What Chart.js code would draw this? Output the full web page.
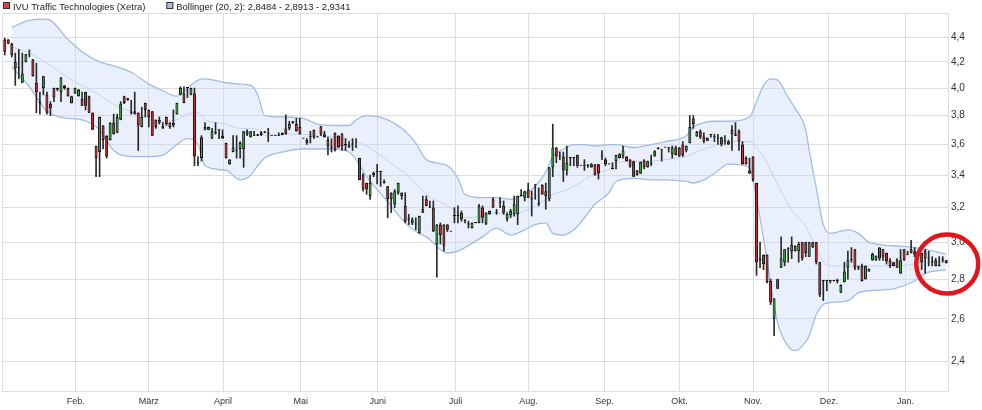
<!DOCTYPE html>
<html lang="de">
<head>
<meta charset="UTF-8">
<title>IVU Traffic Technologies (Xetra)</title>
<script src="https://cdn.jsdelivr.net/npm/chart.js"></script>
<style>
  html, body { margin: 0; padding: 0; background: #fff; }
  #chart { display: block; }
</style>
</head>
<body>
<canvas id="chart" width="982" height="410"></canvas>
<script>
// daily candles, one entry per trading day
const open = [
  4.38, 4.38, 4.345, 4.20, 4.15, 4.04, 4.20, 4.29, 4.22, 4.04,
  3.89, 4.00, 3.95, 3.885, 4.00, 4.00, 3.97, 4.02, 4.00, 3.89,
  3.96, 3.94, 3.92, 3.97, 3.94, 3.82, 3.59, 3.55, 3.73, 3.66,
  3.63, 3.75, 3.68, 3.77, 3.94, 3.91, 3.82, 3.83, 3.82, 3.72,
  3.89, 3.84, 3.83, 3.77, 3.77, 3.71, 3.79, 3.72, 3.75, 3.81,
  3.95, 3.96, 4.00, 3.95, 3.96, 3.48, 3.51, 3.70, 3.70, 3.64,
  3.68, 3.70, 3.64, 3.61, 3.47, 3.55, 3.565, 3.57, 3.57, 3.67,
  3.65, 3.66, 3.66, 3.665, 3.68, 3.67, 3.66, 3.66, 3.66, 3.68,
  3.71, 3.71, 3.745, 3.74, 3.72, 3.64, 3.63, 3.65, 3.70, 3.65,
  3.725, 3.67, 3.63, 3.58, 3.68, 3.66, 3.675, 3.595, 3.58, 3.60,
  3.58, 3.51, 3.40, 3.35, 3.27, 3.40, 3.42, 3.42, 3.36, 3.33,
  3.29, 3.22, 3.29, 3.29, 3.21, 3.13, 3.11, 3.10, 3.05, 3.17,
  3.25, 3.20, 3.20, 2.99, 3.10, 3.10, 3.10, 3.06, 3.15, 3.15,
  3.17, 3.12, 3.10, 3.08, 3.11, 3.11, 3.20, 3.105, 3.16, 3.25,
  3.17, 3.23, 3.21, 3.13, 3.155, 3.16, 3.16, 3.27, 3.26, 3.31,
  3.25, 3.34, 3.22, 3.34, 3.30, 3.25, 3.45, 3.58, 3.52, 3.52,
  3.43, 3.51, 3.51, 3.53, 3.46, 3.46, 3.46, 3.47, 3.47, 3.47,
  3.52, 3.50, 3.47, 3.44, 3.49, 3.51, 3.52, 3.52, 3.50, 3.49,
  3.43, 3.41, 3.495, 3.45, 3.47, 3.525, 3.57, 3.565, 3.58, 3.575,
  3.535, 3.58, 3.58, 3.60, 3.56, 3.61, 3.78, 3.655, 3.69, 3.655,
  3.645, 3.665, 3.65, 3.64, 3.65, 3.62, 3.62, 3.70, 3.66, 3.69,
  3.60, 3.51, 3.41, 3.52, 3.35, 2.90, 2.93, 2.93, 2.79, 2.60,
  2.80, 2.86, 2.89, 2.96, 2.95, 2.98, 2.95, 3.00, 3.00, 2.92,
  3.00, 3.00, 2.89, 2.79, 2.79, 2.79, 2.79, 2.79, 2.73, 2.785,
  2.86, 2.90, 2.96, 2.86, 2.87, 2.80, 2.84, 2.90, 2.90, 2.97,
  2.96, 2.94, 2.90, 2.89, 2.90, 2.83, 2.96, 2.93, 2.96, 2.95,
  2.93, 2.94, 2.95, 2.91, 2.89, 2.90, 2.87, 2.90, 2.90
];
const high = [
  4.39, 4.38, 4.35, 4.27, 4.30, 4.27, 4.26, 4.29, 4.22, 4.19,
  3.97, 4.09, 3.97, 3.90, 4.00, 4.00, 4.08, 4.02, 4.00, 3.94,
  4.00, 3.99, 3.97, 3.97, 3.94, 3.82, 3.59, 3.79, 3.73, 3.66,
  3.75, 3.81, 3.81, 3.90, 3.94, 3.925, 3.91, 3.97, 3.82, 3.86,
  3.89, 3.84, 3.83, 3.77, 3.79, 3.75, 3.79, 3.75, 3.84, 3.89,
  4.01, 4.01, 4.00, 4.00, 4.00, 3.52, 3.66, 3.75, 3.72, 3.71,
  3.75, 3.70, 3.70, 3.61, 3.50, 3.66, 3.66, 3.62, 3.69, 3.70,
  3.69, 3.69, 3.67, 3.69, 3.69, 3.71, 3.66, 3.66, 3.68, 3.68,
  3.805, 3.76, 3.76, 3.78, 3.78, 3.64, 3.64, 3.69, 3.70, 3.65,
  3.725, 3.69, 3.65, 3.64, 3.68, 3.66, 3.675, 3.64, 3.62, 3.64,
  3.64, 3.51, 3.41, 3.35, 3.40, 3.42, 3.47, 3.42, 3.37, 3.33,
  3.29, 3.31, 3.35, 3.29, 3.29, 3.16, 3.14, 3.14, 3.15, 3.27,
  3.27, 3.24, 3.24, 3.10, 3.11, 3.10, 3.10, 3.06, 3.20, 3.21,
  3.18, 3.13, 3.12, 3.11, 3.11, 3.22, 3.21, 3.17, 3.18, 3.26,
  3.19, 3.26, 3.24, 3.17, 3.19, 3.27, 3.27, 3.31, 3.30, 3.35,
  3.30, 3.34, 3.32, 3.34, 3.35, 3.45, 3.74, 3.58, 3.55, 3.55,
  3.59, 3.51, 3.51, 3.53, 3.46, 3.50, 3.47, 3.475, 3.47, 3.47,
  3.56, 3.51, 3.47, 3.48, 3.53, 3.54, 3.59, 3.52, 3.50, 3.49,
  3.43, 3.485, 3.50, 3.49, 3.53, 3.56, 3.58, 3.565, 3.58, 3.58,
  3.59, 3.59, 3.58, 3.62, 3.59, 3.80, 3.80, 3.69, 3.70, 3.68,
  3.645, 3.665, 3.67, 3.67, 3.65, 3.66, 3.63, 3.73, 3.75, 3.70,
  3.62, 3.52, 3.51, 3.52, 3.35, 3.00, 2.93, 2.93, 2.80, 2.70,
  2.80, 3.03, 2.96, 2.97, 3.03, 2.98, 3.00, 3.00, 3.00, 3.00,
  3.00, 3.00, 2.89, 2.79, 2.79, 2.79, 2.79, 2.80, 2.77, 2.89,
  2.95, 2.97, 2.96, 2.87, 2.88, 2.87, 2.855, 2.94, 2.925, 2.97,
  2.96, 2.94, 2.91, 2.89, 2.91, 2.96, 2.96, 2.95, 3.01, 2.97,
  2.93, 2.94, 2.96, 2.95, 2.92, 2.91, 2.92, 2.92, 2.90
];
const low = [
  4.255, 4.345, 4.24, 4.02, 4.07, 4.04, 4.20, 4.24, 4.09, 3.82,
  3.81, 3.95, 3.81, 3.80, 3.90, 3.98, 3.90, 3.99, 3.94, 3.89,
  3.96, 3.94, 3.87, 3.84, 3.82, 3.70, 3.39, 3.39, 3.57, 3.51,
  3.63, 3.67, 3.68, 3.77, 3.885, 3.91, 3.81, 3.81, 3.56, 3.72,
  3.79, 3.72, 3.66, 3.71, 3.74, 3.71, 3.73, 3.71, 3.72, 3.81,
  3.95, 3.89, 3.93, 3.95, 3.46, 3.46, 3.49, 3.70, 3.70, 3.64,
  3.67, 3.64, 3.64, 3.51, 3.47, 3.55, 3.51, 3.51, 3.45, 3.66,
  3.65, 3.66, 3.66, 3.66, 3.68, 3.62, 3.66, 3.66, 3.66, 3.665,
  3.67, 3.70, 3.745, 3.69, 3.67, 3.64, 3.60, 3.61, 3.64, 3.65,
  3.66, 3.65, 3.53, 3.55, 3.555, 3.58, 3.56, 3.56, 3.58, 3.56,
  3.58, 3.37, 3.30, 3.28, 3.25, 3.39, 3.345, 3.33, 3.35, 3.14,
  3.17, 3.20, 3.28, 3.25, 3.11, 3.10, 3.10, 3.07, 3.05, 3.17,
  3.21, 3.20, 3.06, 2.81, 2.99, 2.95, 3.06, 3.06, 3.11, 3.11,
  3.12, 3.11, 3.08, 3.08, 3.11, 3.11, 3.11, 3.10, 3.16, 3.20,
  3.16, 3.20, 3.16, 3.12, 3.14, 3.15, 3.10, 3.27, 3.24, 3.26,
  3.15, 3.25, 3.21, 3.28, 3.19, 3.24, 3.39, 3.48, 3.50, 3.36,
  3.40, 3.46, 3.46, 3.45, 3.46, 3.43, 3.45, 3.45, 3.40, 3.375,
  3.50, 3.46, 3.47, 3.44, 3.44, 3.51, 3.51, 3.49, 3.45, 3.39,
  3.40, 3.41, 3.44, 3.45, 3.46, 3.52, 3.57, 3.49, 3.58, 3.55,
  3.51, 3.53, 3.52, 3.52, 3.55, 3.61, 3.71, 3.655, 3.64, 3.61,
  3.625, 3.65, 3.62, 3.60, 3.59, 3.60, 3.60, 3.56, 3.66, 3.56,
  3.47, 3.47, 3.41, 3.36, 2.82, 2.86, 2.85, 2.78, 2.67, 2.52,
  2.75, 2.86, 2.87, 2.89, 2.91, 2.95, 2.89, 2.90, 2.92, 2.92,
  2.97, 2.88, 2.71, 2.69, 2.74, 2.78, 2.79, 2.78, 2.73, 2.785,
  2.80, 2.89, 2.85, 2.85, 2.79, 2.80, 2.84, 2.90, 2.90, 2.90,
  2.90, 2.88, 2.86, 2.87, 2.86, 2.83, 2.90, 2.93, 2.94, 2.92,
  2.93, 2.85, 2.83, 2.87, 2.87, 2.87, 2.87, 2.89, 2.885
];
const close = [
  4.28, 4.345, 4.255, 4.15, 4.15, 4.11, 4.26, 4.29, 4.09, 3.97,
  3.89, 4.09, 3.82, 3.85, 3.93, 3.99, 4.08, 4.00, 3.94, 3.94,
  4.00, 3.99, 3.87, 3.87, 3.82, 3.70, 3.51, 3.79, 3.63, 3.52,
  3.75, 3.67, 3.79, 3.885, 3.89, 3.925, 3.82, 3.81, 3.73, 3.79,
  3.84, 3.79, 3.66, 3.72, 3.75, 3.725, 3.74, 3.75, 3.73, 3.89,
  4.00, 3.89, 4.00, 4.00, 3.52, 3.48, 3.65, 3.72, 3.72, 3.69,
  3.68, 3.70, 3.66, 3.51, 3.50, 3.58, 3.56, 3.61, 3.69, 3.69,
  3.69, 3.66, 3.67, 3.68, 3.68, 3.67, 3.66, 3.66, 3.66, 3.665,
  3.67, 3.74, 3.76, 3.69, 3.67, 3.64, 3.61, 3.65, 3.65, 3.65,
  3.67, 3.65, 3.59, 3.58, 3.565, 3.58, 3.59, 3.605, 3.60, 3.60,
  3.58, 3.37, 3.31, 3.31, 3.35, 3.415, 3.42, 3.42, 3.35, 3.25,
  3.25, 3.30, 3.35, 3.27, 3.12, 3.13, 3.13, 3.10, 3.15, 3.19,
  3.21, 3.20, 3.06, 3.10, 3.04, 2.98, 3.07, 3.06, 3.15, 3.15,
  3.13, 3.12, 3.10, 3.11, 3.11, 3.21, 3.14, 3.17, 3.18, 3.20,
  3.17, 3.23, 3.17, 3.16, 3.18, 3.22, 3.27, 3.27, 3.30, 3.26,
  3.25, 3.34, 3.22, 3.28, 3.27, 3.45, 3.58, 3.52, 3.52, 3.43,
  3.48, 3.51, 3.51, 3.46, 3.46, 3.46, 3.46, 3.45, 3.40, 3.41,
  3.52, 3.47, 3.47, 3.44, 3.53, 3.535, 3.56, 3.49, 3.455, 3.39,
  3.40, 3.485, 3.45, 3.49, 3.47, 3.555, 3.57, 3.565, 3.58, 3.575,
  3.58, 3.53, 3.52, 3.53, 3.59, 3.72, 3.74, 3.685, 3.65, 3.62,
  3.625, 3.665, 3.65, 3.64, 3.60, 3.62, 3.60, 3.67, 3.67, 3.62,
  3.47, 3.47, 3.43, 3.37, 2.89, 2.91, 2.88, 2.785, 2.68, 2.70,
  2.75, 2.91, 2.96, 2.96, 2.985, 2.95, 2.99, 2.91, 2.94, 3.00,
  2.97, 2.89, 2.72, 2.79, 2.79, 2.79, 2.79, 2.79, 2.77, 2.84,
  2.90, 2.90, 2.86, 2.86, 2.79, 2.87, 2.855, 2.935, 2.925, 2.91,
  2.92, 2.895, 2.87, 2.87, 2.86, 2.90, 2.90, 2.93, 2.94, 2.93,
  2.93, 2.89, 2.91, 2.91, 2.89, 2.87, 2.87, 2.90, 2.885
];

// Bollinger (20, 2) at these trading-day positions
const bandIdx = [
  2, 7, 12, 18, 22, 27, 31, 36, 41, 45, 49, 52, 55, 57, 63, 67, 70, 72, 74, 79,
  85, 89, 94, 98, 100, 103, 108, 114, 117, 120, 126, 129, 131, 136, 140, 144, 148, 151, 154, 156,
  159, 162, 165, 168, 172, 174, 179, 184, 188, 194, 196, 199, 202, 206, 212, 214, 216, 218, 220, 223,
  225, 228, 229, 231, 233, 235, 240, 243, 246, 253, 259, 262, 268
];
const bandUpper = [
  4.48, 4.54, 4.55, 4.38, 4.28, 4.20, 4.17, 4.12, 4.03, 3.98, 3.94, 4.00, 4.06, 4.07, 4.04, 4.03, 4.02, 3.95, 3.80, 3.79,
  3.78, 3.74, 3.73, 3.73, 3.77, 3.80, 3.78, 3.69, 3.61, 3.50, 3.46, 3.38, 3.28, 3.26, 3.26, 3.25, 3.28, 3.33, 3.42, 3.52,
  3.57, 3.60, 3.60, 3.59, 3.60, 3.60, 3.58, 3.60, 3.62, 3.66, 3.72, 3.75, 3.76, 3.76, 3.79, 3.90, 4.02, 4.07, 4.06, 3.93,
  3.85, 3.70, 3.56, 3.32, 3.10, 3.05, 3.07, 3.05, 3.00, 2.98, 2.97, 2.96, 2.9341
];
const bandMiddle = [
  4.32, 4.27, 4.19, 4.08, 4.02, 3.95, 3.88, 3.83, 3.78, 3.76, 3.77, 3.81, 3.82, 3.77, 3.74, 3.71, 3.71, 3.70, 3.66, 3.67,
  3.67, 3.66, 3.65, 3.63, 3.62, 3.59, 3.51, 3.41, 3.35, 3.28, 3.21, 3.17, 3.14, 3.15, 3.17, 3.15, 3.18, 3.21, 3.25, 3.28,
  3.30, 3.33, 3.37, 3.41, 3.44, 3.48, 3.49, 3.49, 3.50, 3.52, 3.54, 3.57, 3.59, 3.62, 3.62, 3.58, 3.52, 3.43, 3.34, 3.22,
  3.16, 3.09, 3.05, 2.97, 2.89, 2.87, 2.87, 2.87, 2.87, 2.87, 2.88, 2.89, 2.8913
];
const bandLower = [
  4.16, 4.01, 3.83, 3.78, 3.77, 3.70, 3.56, 3.52, 3.52, 3.53, 3.60, 3.64, 3.60, 3.46, 3.43, 3.37, 3.40, 3.46, 3.51, 3.55,
  3.57, 3.57, 3.57, 3.55, 3.50, 3.39, 3.26, 3.11, 3.06, 3.03, 2.94, 2.95, 2.97, 3.03, 3.08, 3.04, 3.07, 3.10, 3.11, 3.05,
  3.04, 3.07, 3.14, 3.22, 3.29, 3.36, 3.38, 3.37, 3.37, 3.36, 3.35, 3.37, 3.41, 3.47, 3.45, 3.25, 3.02, 2.78, 2.58, 2.47,
  2.45, 2.49, 2.52, 2.62, 2.67, 2.68, 2.69, 2.73, 2.74, 2.75, 2.79, 2.83, 2.8484
];

// month starts on the trading-day axis
const monthTicks = [20.2, 41, 62.15, 84.25, 106.2, 128.3, 149.1, 170.7, 192.1, 213, 234.6, 256.4];
const monthLabels = ['Feb.', 'März', 'April', 'Mai', 'Juni', 'Juli', 'Aug.', 'Sep.', 'Okt.', 'Nov.', 'Dez.', 'Jan.'];
const priceTicks = [2.4, 2.6, 2.8, 3.0, 3.2, 3.4, 3.6, 3.8, 4.0, 4.2, 4.4];

const FONT = '"Liberation Sans", Arial, sans-serif';
const GRID = '#dddddd';
const UP = '#36b336';
const DOWN = '#d0302f';
const BAND_LINE = '#a4bbe6';
const BAND_MID = '#c2d3f3';
const BAND_FILL = 'rgba(200, 217, 247, 0.4)';

const fmt = (v, d) => v.toFixed(d).replace('.', ',');
const last = bandIdx.length - 1;
const legendItems = [
    { text: 'IVU Traffic Technologies (Xetra)', color: '#e33a3a' },
    { text: 'Bollinger (20, 2): ' + fmt(bandLower[last], 4) + ' - ' + fmt(bandMiddle[last], 4) + ' - ' + fmt(bandUpper[last], 4), color: '#a7bde6' }
];

const bodyColors = close.map((c, i) => c > open[i] ? UP : (c < open[i] ? DOWN : '#111'));
const band = values => bandIdx.map((x, i) => ({ x: x, y: values[i] }));

// plot frame, drawn like the grid
const framePlugin = {
    id: 'frame',
    beforeDatasetsDraw(chart) {
        const a = chart.chartArea;
        const ctx = chart.ctx;
        ctx.save();
        ctx.strokeStyle = GRID;
        ctx.lineWidth = 1;
        ctx.strokeRect(Math.round(a.left) - 0.5, Math.round(a.top) + 0.5,
            Math.round(a.right - a.left) + 1, Math.round(a.bottom - a.top) - 1);
        ctx.restore();
    }
};

const legendPlugin = {
    id: 'topLegend',
    afterDraw(chart) {
        const ctx = chart.ctx;
        ctx.save();
        ctx.font = '9.4px ' + FONT;
        ctx.textBaseline = 'alphabetic';
        let x = 3;
        legendItems.forEach(item => {
            ctx.fillStyle = item.color;
            ctx.fillRect(x, 2, 7, 7);
            ctx.strokeStyle = '#333';
            ctx.lineWidth = 1;
            ctx.strokeRect(x + 0.5, 2.5, 6, 6);
            ctx.fillStyle = '#222';
            ctx.fillText(item.text, x + 10, 9.5);
            x += 10 + ctx.measureText(item.text).width + 21;
        });
        ctx.restore();
    }
};

// the hand-drawn red ring around the latest prices
const markPlugin = {
    id: 'mark',
    afterDraw(chart) {
        const ctx = chart.ctx;
        const cx = chart.scales.x.getPixelForValue(close.length - 1) + 1;
        const cy = chart.scales.y.getPixelForValue(2.88);
        ctx.save();
        ctx.strokeStyle = '#e3151b';
        ctx.lineWidth = 4.5;
        ctx.beginPath();
        ctx.ellipse(cx, cy, 31, 29.5, 0, 0, Math.PI * 2);
        ctx.stroke();
        ctx.restore();
    }
};

Chart.defaults.font.family = FONT;

new Chart(document.getElementById('chart'), {
    type: 'bar',
    data: {
        datasets: [
            {
                type: 'line',
                label: 'upper',
                data: band(bandUpper),
                borderColor: BAND_LINE,
                borderWidth: 1.3,
                pointRadius: 0,
                cubicInterpolationMode: 'monotone',
                fill: false,
                order: 3
            },
            {
                type: 'line',
                label: 'middle',
                data: band(bandMiddle),
                borderColor: BAND_MID,
                borderWidth: 1,
                pointRadius: 0,
                cubicInterpolationMode: 'monotone',
                fill: false,
                order: 3
            },
            {
                type: 'line',
                label: 'lower',
                data: band(bandLower),
                borderColor: BAND_LINE,
                borderWidth: 1.3,
                pointRadius: 0,
                cubicInterpolationMode: 'monotone',
                fill: { target: 0, above: BAND_FILL, below: BAND_FILL },
                order: 4
            },
            {
                label: 'wick',
                data: open.map((_, i) => ({ x: i, y: [low[i], high[i]] })),
                backgroundColor: '#2a2a2a',
                barThickness: 1,
                grouped: false,
                order: 1
            },
            {
                label: 'body',
                data: open.map((o, i) => ({ x: i, y: [o, close[i]] })),
                backgroundColor: bodyColors,
                borderColor: '#111',
                borderWidth: 1,
                borderSkipped: false,
                barPercentage: 0.85,
                categoryPercentage: 1,
                minBarLength: 1,
                grouped: false,
                order: 0
            }
        ]
    },
    options: {
        responsive: false,
        animation: false,
        events: [],
        layout: { padding: { left: 3, top: 13, right: 0, bottom: 0 } },
        plugins: {
            legend: { display: false },
            tooltip: { enabled: false }
        },
        scales: {
            x: {
                type: 'linear',
                min: -0.5,
                max: open.length - 0.5,
                offset: false,
                grid: { color: GRID, drawTicks: false, offset: false },
                border: { display: false },
                ticks: {
                    font: { size: 9 },
                    color: '#333',
                    padding: 4,
                    autoSkip: false,
                    maxRotation: 0,
                    callback: (v, i) => monthLabels[i]
                },
                afterBuildTicks: scale => { scale.ticks = monthTicks.map(v => ({ value: v })); },
                afterFit: scale => { scale.height = 18; }
            },
            y: {
                type: 'logarithmic',
                position: 'right',
                min: 2.268,
                max: 4.602,
                grid: { color: GRID, drawTicks: false },
                border: { display: false },
                ticks: {
                    font: { size: 10 },
                    color: '#333',
                    padding: 3,
                    autoSkip: false,
                    callback: v => fmt(v, 1)
                },
                afterBuildTicks: scale => { scale.ticks = priceTicks.map(v => ({ value: v })); },
                afterFit: scale => { scale.width = 34; }
            }
        }
    },
    plugins: [framePlugin, legendPlugin, markPlugin]
});
</script>
</body>
</html>
